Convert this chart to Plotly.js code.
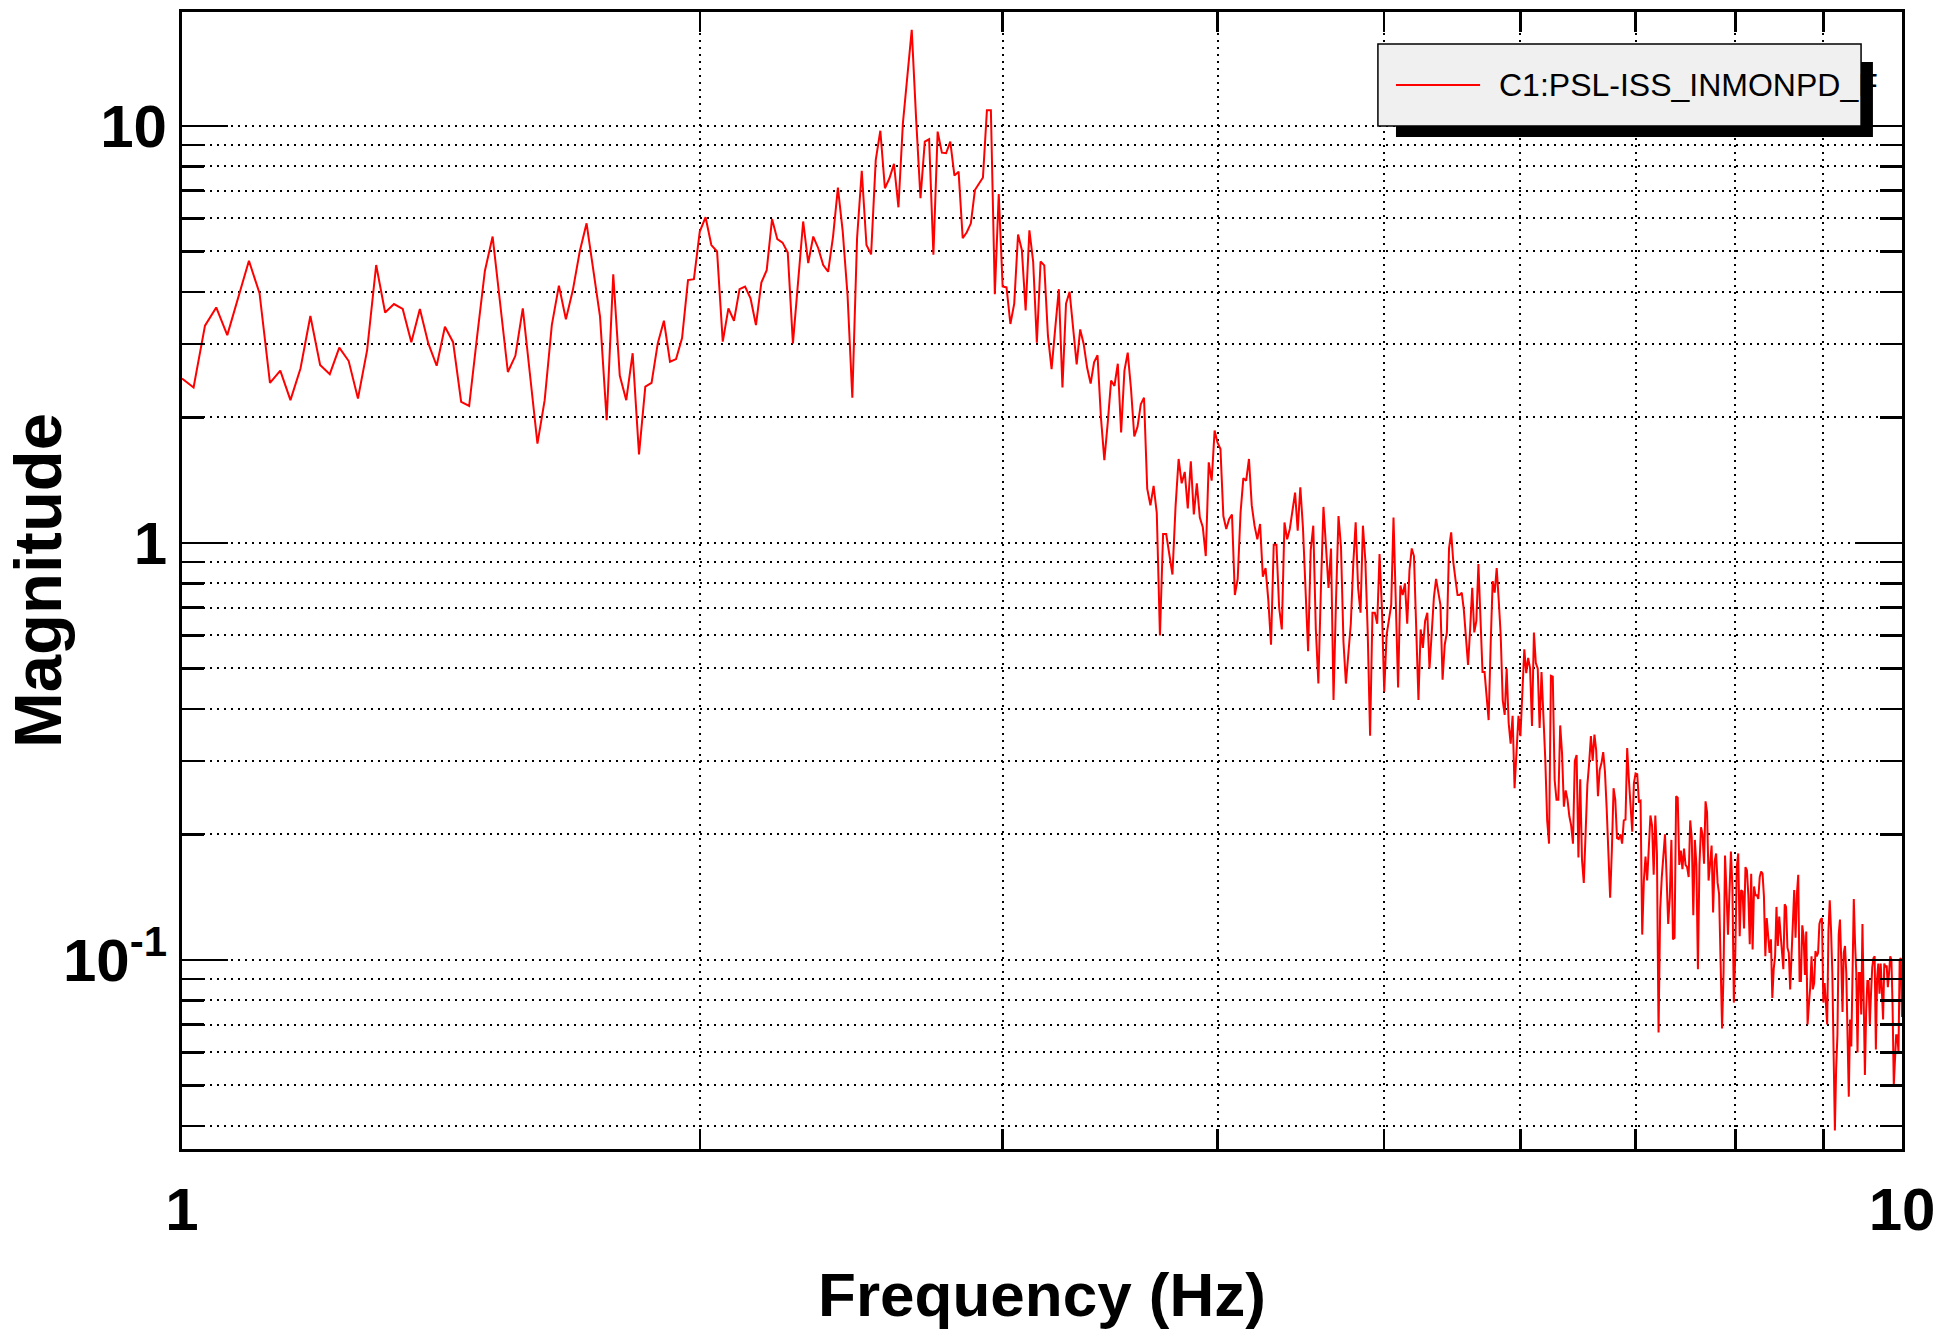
<!DOCTYPE html>
<html>
<head>
<meta charset="utf-8">
<script src="https://cdn.plot.ly/plotly-3.0.1.min.js"></script>
<style>
  html, body { margin: 0; padding: 0; background: #ffffff; }
  #chart { width: 1936px; height: 1329px; }
</style>
</head>
<body>
<div id="chart"></div>
<script>
// ---------------- DATA ----------------
const channelName = 'C1:PSL-ISS_INMONPD_F';
const freqStart = 1.0;      // Hz, first frequency bin
const freqStep = 1 / 64;    // Hz, bin width

// Magnitude per frequency bin, grouped by 1-Hz band
const mag_1to2Hz = [
  2.48, 2.36, 3.32, 3.67, 3.15, 3.90, 4.75, 3.97, 2.42, 2.59,
  2.20, 2.62, 3.50, 2.67, 2.54, 2.94, 2.73, 2.22, 2.90, 4.64,
  3.57, 3.74, 3.64, 3.03, 3.64, 3.01, 2.66, 3.30, 3.03, 2.18,
  2.13, 3.12, 4.49, 5.43, 3.76, 2.57, 2.81, 3.65, 2.51, 1.73,
  2.20, 3.33, 4.14, 3.44, 4.04, 5.00, 5.84, 4.51, 3.49, 1.97,
  4.41, 2.52, 2.20, 2.85, 1.63, 2.37, 2.42, 3.01, 3.41, 2.72,
  2.76, 3.10, 4.27, 4.29
];
const mag_2to3Hz = [
  5.58, 6.04, 5.18, 5.00, 3.04, 3.65, 3.41, 4.06, 4.12, 3.86,
  3.33, 4.21, 4.51, 5.98, 5.35, 5.25, 4.97, 3.01, 4.31, 5.90,
  4.69, 5.43, 5.09, 4.64, 4.47, 5.43, 7.11, 5.58, 3.93, 2.23,
  5.38, 7.81, 5.18, 4.92, 8.28, 9.74, 7.09, 7.49, 8.11, 6.38,
  10.15, 13.0, 17.0, 10.4, 6.71, 9.17, 9.29, 4.91, 9.69, 8.63,
  8.60, 9.17, 7.60, 7.77, 5.38, 5.56, 5.84, 7.02, 7.29, 7.52,
  10.9, 10.9, 3.95, 6.87
];
const mag_3to4Hz = [
  4.12, 4.10, 3.35, 3.75, 5.49, 5.04, 3.61, 5.62, 4.73, 3.02,
  4.73, 4.63, 3.14, 2.61, 3.27, 4.06, 2.36, 3.75, 4.00, 3.29,
  2.68, 3.25, 3.00, 2.63, 2.41, 2.71, 2.82, 2.00, 1.58, 1.94,
  2.45, 2.38, 2.69, 1.84, 2.59, 2.86, 2.34, 1.80, 1.90, 2.15,
  2.23, 1.35, 1.23, 1.37, 1.18, 0.60, 1.05, 1.05, 0.94, 0.84,
  1.22, 1.59, 1.39, 1.48, 1.21, 1.57, 1.17, 1.39, 1.15, 1.09,
  0.93, 1.56, 1.41, 1.86
];
const mag_4to5Hz = [
  1.74, 1.68, 1.16, 1.08, 1.14, 1.17, 0.75, 0.82, 1.18, 1.43,
  1.41, 1.59, 1.23, 1.10, 1.02, 1.11, 0.83, 0.87, 0.73, 0.57,
  0.99, 0.99, 0.70, 0.62, 1.12, 1.02, 1.08, 1.19, 1.32, 1.07,
  1.36, 1.09, 0.80, 0.55, 0.96, 1.10, 0.62, 0.46, 0.78, 1.22,
  0.98, 0.78, 0.97, 0.42, 0.73, 1.16, 0.98, 0.58, 0.46, 0.54,
  0.64, 0.89, 1.12, 0.78, 0.68, 1.10, 0.91, 0.61, 0.345, 0.68,
  0.68, 0.64, 0.94, 0.70
];
const mag_5to6Hz = [
  0.44, 0.60, 0.65, 0.71, 1.15, 0.73, 0.45, 0.79, 0.75, 0.80,
  0.64, 0.86, 0.97, 0.93, 0.66, 0.42, 0.62, 0.56, 0.65, 0.68,
  0.50, 0.60, 0.74, 0.82, 0.77, 0.71, 0.47, 0.57, 0.61, 0.97,
  1.06, 0.90, 0.82, 0.75, 0.75, 0.76, 0.69, 0.58, 0.51, 0.62,
  0.78, 0.61, 0.65, 0.89, 0.67, 0.49, 0.49, 0.435, 0.376, 0.57,
  0.81, 0.76, 0.87, 0.73, 0.60, 0.42, 0.387, 0.50, 0.37, 0.33,
  0.385, 0.258, 0.33, 0.385
];
const mag_6to7Hz = [
  0.344, 0.435, 0.556, 0.487, 0.53, 0.50, 0.364, 0.61, 0.515, 0.50,
  0.36, 0.49, 0.40, 0.302, 0.216, 0.19, 0.48, 0.478, 0.27, 0.242,
  0.242, 0.365,
  0.313, 0.233, 0.255, 0.242, 0.221, 0.21, 0.19, 0.30, 0.31, 0.176,
  0.271, 0.174, 0.153, 0.205, 0.263, 0.296, 0.344, 0.30, 0.347, 0.318,
  0.247, 0.286, 0.296, 0.315, 0.283, 0.231, 0.18, 0.141, 0.183, 0.258,
  0.242, 0.196, 0.195, 0.20, 0.19, 0.216, 0.217, 0.322, 0.271, 0.228,
  0.203, 0.265
];
const mag_7to8Hz = [
  0.28, 0.279, 0.24, 0.241, 0.115, 0.155, 0.177, 0.155, 0.19, 0.222,
  0.21, 0.16, 0.222, 0.18, 0.067, 0.132, 0.158, 0.183, 0.20, 0.158,
  0.122, 0.141, 0.194, 0.112, 0.113, 0.247, 0.245, 0.169, 0.183, 0.165,
  0.185, 0.169, 0.167, 0.158, 0.216, 0.196, 0.128, 0.194, 0.169, 0.095,
  0.169, 0.208, 0.20, 0.17, 0.24, 0.226, 0.155, 0.17, 0.188, 0.13,
  0.172, 0.18, 0.153, 0.144, 0.10, 0.0685, 0.093, 0.178, 0.145, 0.115,
  0.145, 0.182, 0.150, 0.079
];
const mag_8to9Hz = [
  0.104, 0.167, 0.180, 0.114, 0.147, 0.146, 0.119, 0.167, 0.164, 0.143,
  0.109, 0.161, 0.106, 0.150, 0.143, 0.143, 0.140, 0.158, 0.163, 0.161,
  0.142, 0.102, 0.126, 0.112, 0.104, 0.112, 0.081, 0.095, 0.102, 0.134,
  0.108, 0.127, 0.114, 0.104, 0.095, 0.136, 0.134, 0.107, 0.104, 0.085,
  0.104, 0.114, 0.147, 0.113, 0.144, 0.160, 0.089, 0.089, 0.121, 0.114,
  0.092, 0.117, 0.070, 0.078, 0.086, 0.102, 0.085, 0.088, 0.105, 0.102,
  0.104, 0.122, 0.125, 0.126
];
const mag_9to10Hz = [
  0.079, 0.088, 0.077, 0.070, 0.118, 0.139, 0.118, 0.093, 0.060, 0.039,
  0.055, 0.066, 0.115, 0.125, 0.100, 0.075, 0.104, 0.108, 0.093, 0.060,
  0.047, 0.072, 0.062, 0.093, 0.140, 0.110, 0.093, 0.060, 0.093, 0.093,
  0.074, 0.122, 0.077, 0.053, 0.075, 0.089, 0.089, 0.070, 0.083, 0.096,
  0.101, 0.102, 0.061, 0.090, 0.098, 0.083, 0.098, 0.080, 0.072, 0.098,
  0.096, 0.097, 0.086, 0.093, 0.102, 0.100, 0.077, 0.050, 0.058, 0.066,
  0.066, 0.060, 0.100, 0.101, 0.073
];

// Axis ticks
const xDecadeTicks = [1, 10];
const xDecadeLabels = ['1', '10'];
const xMinorTicks = [2, 3, 4, 5, 6, 7, 8, 9];
const yDecadeTicks = [0.1, 1, 10];
const yDecadeLabels = ['10<sup>-1</sup>', '1', '10'];
const yMinorTicks = [0.04, 0.05, 0.06, 0.07, 0.08, 0.09,
                     0.2, 0.3, 0.4, 0.5, 0.6, 0.7, 0.8, 0.9,
                     2, 3, 4, 5, 6, 7, 8, 9];
const xRange = [1, 10];
const yRange = [0.0352, 18.76];

// ---------------- BUILD ----------------
const magnitude = [].concat(mag_1to2Hz, mag_2to3Hz, mag_3to4Hz, mag_4to5Hz,
  mag_5to6Hz, mag_6to7Hz, mag_7to8Hz, mag_8to9Hz, mag_9to10Hz);
const frequency = magnitude.map((_, i) => freqStart + i * freqStep);

const FONT = 'Liberation Sans, Arial, Helvetica, sans-serif';
const BLACK = '#000000';
const GRIDDASH = '2px,5px';

const trace = {
  type: 'scatter',
  mode: 'lines',
  name: channelName,
  x: frequency,
  y: magnitude,
  line: { color: '#ff0000', width: 2 },
  showlegend: false
};

function axisBase() {
  return {
    type: 'log',
    autorange: false,
    tickmode: 'array',
    ticks: 'inside',
    ticklen: 46,
    tickwidth: 2.5,
    tickcolor: BLACK,
    showline: true,
    linewidth: 3,
    linecolor: BLACK,
    mirror: 'allticks',
    showgrid: true,
    gridcolor: BLACK,
    gridwidth: 2,
    griddash: GRIDDASH,
    zeroline: false,
    automargin: false,
    tickfont: { family: FONT, size: 60, color: BLACK, weight: 'bold' }
  };
}

const xaxis = Object.assign(axisBase(), {
  range: xRange.map(Math.log10),
  tickvals: xDecadeTicks,
  ticktext: xDecadeLabels,
  ticklabelstandoff: 6,
  title: { text: 'Frequency (Hz)', font: { family: FONT, size: 62, color: BLACK, weight: 'bold' }, standoff: 62 },
  minor: { tickmode: 'array', tickvals: xMinorTicks, ticks: 'inside', ticklen: 20, tickwidth: 2.5,
           tickcolor: BLACK, showgrid: true, gridcolor: BLACK, gridwidth: 2, griddash: GRIDDASH }
});
const yaxis = Object.assign(axisBase(), {
  range: yRange.map(Math.log10),
  tickvals: yDecadeTicks,
  ticktext: yDecadeLabels,
  ticklabelstandoff: 0,
  title: { text: 'Magnitude', font: { family: FONT, size: 67, color: BLACK, weight: 'bold' }, standoff: 40 },
  minor: { tickmode: 'array', tickvals: yMinorTicks, ticks: 'inside', ticklen: 22, tickwidth: 2.5,
           tickcolor: BLACK, showgrid: true, gridcolor: BLACK, gridwidth: 2, griddash: GRIDDASH }
});

// Legend drawn as a ROOT-style pave with a drop shadow
const legendBox = { x0: 0.6953, x1: 0.9762, y0: 0.8997, y1: 0.9719 };
const legendShadow = { x0: 0.7058, x1: 0.9831, y0: 0.8901, y1: 0.9560 };
const legendLineY = 0.9358;

const layout = {
  width: 1936,
  height: 1329,
  margin: { l: 182, r: 34, t: 12, b: 180, pad: 0 },
  paper_bgcolor: '#ffffff',
  plot_bgcolor: '#ffffff',
  showlegend: false,
  xaxis: xaxis,
  yaxis: yaxis,
  shapes: [
    { type: 'rect', xref: 'paper', yref: 'paper', layer: 'above',
      x0: legendShadow.x0, x1: legendShadow.x1, y0: legendShadow.y0, y1: legendShadow.y1,
      fillcolor: BLACK, line: { width: 0 } },
    { type: 'rect', xref: 'paper', yref: 'paper', layer: 'above',
      x0: legendBox.x0, x1: legendBox.x1, y0: legendBox.y0, y1: legendBox.y1,
      fillcolor: '#f0f0f0', line: { color: BLACK, width: 1.5 } },
    { type: 'line', xref: 'paper', yref: 'paper', layer: 'above',
      x0: 0.7058, x1: 0.7547, y0: legendLineY, y1: legendLineY,
      line: { color: '#ff0000', width: 2 } }
  ],
  annotations: [
    { xref: 'paper', yref: 'paper', x: 0.7645, y: legendLineY, xanchor: 'left', yanchor: 'middle',
      text: channelName, showarrow: false,
      font: { family: FONT, size: 32, color: BLACK } }
  ]
};

Plotly.newPlot('chart', [trace], layout, { displayModeBar: false, staticPlot: true });
</script>
</body>
</html>
